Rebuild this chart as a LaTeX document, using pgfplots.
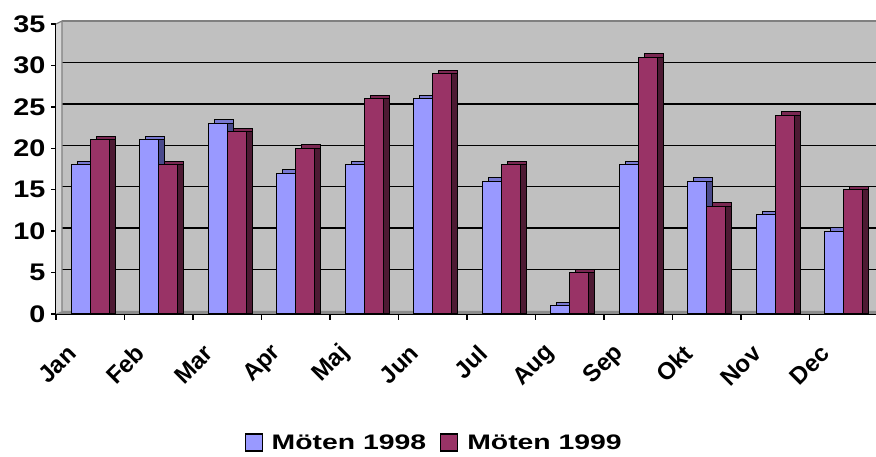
\documentclass[border=0pt]{standalone}
\usepackage{fontspec}
\setmainfont{Liberation Sans}
\newfontfamily\tickfont{Liberation Sans}[FakeStretch=1.2]
\newfontfamily\legfont{Liberation Sans}[FakeStretch=1.35]
\usepackage{pgfplots}
\usepackage{pgfplotstable}
\pgfplotsset{compat=1.18}

% wall, floor and bar face colours
\definecolor{wall}{HTML}{C0C0C0}
\definecolor{floorc}{HTML}{8C8C8C}
\definecolor{sidewall}{HTML}{D8D8D8}
\definecolor{bA}{HTML}{9999FF}
\definecolor{bAtop}{HTML}{7878D0}
\definecolor{bAside}{HTML}{4A4A8C}
\definecolor{bB}{HTML}{993366}
\definecolor{bBtop}{HTML}{7A2852}
\definecolor{bBside}{HTML}{4D1A33}

% meetings per month: a = 1998, b = 1999
\pgfplotstableread{
m a b
0 18 21
1 21 18
2 23 22
3 17 20
4 18 26
5 26 29
6 16 18
7 1 5
8 18 31
9 16 13
10 12 24
11 10 15
}\data

\begin{document}
\begin{tikzpicture}
\useasboundingbox (0,0) rectangle (876pt,457pt);
\begin{axis}[
  at={(56pt,143pt)}, anchor=south west,
  scale only axis, width=822pt, height=290pt,
  xmin=-0.5, xmax=11.5, ymin=0, ymax=35,
  clip=false,
  axis x line*=bottom, axis y line*=left,
  axis line style={black, line width=1.3pt, -},
  ytick={0,5,...,35},
  xtick={0,...,11},
  xticklabels={Jan,Feb,Mar,Apr,Maj,Jun,Jul,Aug,Sep,Okt,Nov,Dec},
  minor xtick={-0.5,0.5,...,11.5},
  tick align=outside,
  major tick length=5pt, minor tick length=6pt,
  tick style={black, line width=1.3pt},
  major x tick style={draw=none},
  /pgf/number format/assume math mode=true,
  yticklabel style={font=\tickfont\bfseries\fontsize{24}{24}\selectfont, xshift=-2pt},
  xticklabel style={font=\bfseries\fontsize{24}{24}\selectfont, xshift=-16pt, yshift=-28pt, rotate=45, anchor=east},
  ybar, bar width=19pt,
  legend image code/.code={\draw[#1, draw=black, line width=1.2pt] (0pt,-8pt) rectangle (17pt,9pt);},
  legend style={at={(0.46,-0.445)}, anchor=center, draw=none, fill=none,
    legend columns=-1, font=\legfont\bfseries\fontsize{21}{21}\selectfont,
    /tikz/every odd column/.append style={column sep=7pt},
    /tikz/every even column/.append style={column sep=12pt}},
]
% back wall, side wall and floor
\fill[wall] ([shift={(6pt,3pt)}]axis cs:-0.5,0) rectangle ([shift={(6pt,3pt)}]axis cs:11.5,35);
\draw[gray, line width=1.2pt] ([shift={(6pt,3pt)}]axis cs:-0.5,35) -- ([shift={(6pt,3pt)}]axis cs:11.5,35);
\pgfplotsinvokeforeach{5,10,15,20,25,30}{
  \draw[black, line width=1.3pt] ([shift={(6pt,3pt)}]axis cs:-0.5,#1) -- ([shift={(6pt,3pt)}]axis cs:11.5,#1);
}
\fill[sidewall] (axis cs:-0.5,0) -- ([shift={(6pt,3pt)}]axis cs:-0.5,0) -- ([shift={(6pt,3pt)}]axis cs:-0.5,35) -- (axis cs:-0.5,35) -- cycle;
\draw[gray, line width=1.2pt] ([shift={(6pt,3pt)}]axis cs:-0.5,0) -- ([shift={(6pt,3pt)}]axis cs:-0.5,35) -- (axis cs:-0.5,35);
\fill[floorc] (axis cs:-0.5,0) -- (axis cs:11.5,0) -- ([shift={(6pt,3pt)}]axis cs:11.5,0) -- ([shift={(6pt,3pt)}]axis cs:-0.5,0) -- cycle;

% 1998: top face, side face, front face
\addplot[fill=bAtop, draw=black, line width=1pt, bar shift=-3.5pt, yshift=3.5pt, forget plot] table[x=m, y=a]{\data};
\addplot[fill=bAside, draw=black, line width=1pt, bar shift=-3.5pt, forget plot] table[x=m, y=a]{\data};
\addplot[fill=bA, draw=black, line width=1pt, bar shift=-9.5pt] table[x=m, y=a]{\data};
\addlegendentry{Möten 1998}
% 1999: top face, side face, front face
\addplot[fill=bBtop, draw=black, line width=1pt, bar shift=15.5pt, yshift=3.5pt, forget plot] table[x=m, y=b]{\data};
\addplot[fill=bBside, draw=black, line width=1pt, bar shift=15.5pt, forget plot] table[x=m, y=b]{\data};
\addplot[fill=bB, draw=black, line width=1pt, bar shift=9.5pt] table[x=m, y=b]{\data};
\addlegendentry{Möten 1999}
\end{axis}
\end{tikzpicture}
\end{document}
